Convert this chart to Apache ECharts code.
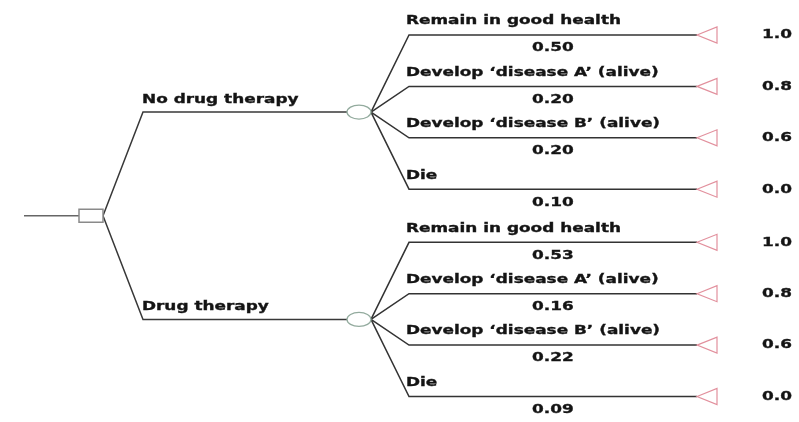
<!DOCTYPE html>
<html>
<head>
<meta charset="utf-8">
<script src="https://cdn.jsdelivr.net/npm/echarts@6/dist/echarts.min.js"></script>
<style>
html,body{margin:0;padding:0;background:#fff;}
#chart{width:799px;height:422px;}
</style>
</head>
<body>
<div id="chart"></div>
<script>
// ---- data ----
const strategies = ['No drug therapy', 'Drug therapy'];
const outcomes = ['Remain in good health', 'Develop \u2018disease A\u2019 (alive)', 'Develop \u2018disease B\u2019 (alive)', 'Die'];
const probNoDrug = [0.50, 0.20, 0.20, 0.10];
const probDrug = [0.53, 0.16, 0.22, 0.09];
const utilities = [1.0, 0.8, 0.6, 0.0];

// ---- layout (in axis units, 1 unit = 1 px) ----
const L = {
  rootStart: 24, decL: 79, decR: 103, decH: 13,
  armEnd: 143, chanceL: 347, chanceR: 371, chanceRy: 7,
  branchStart: 409, tip: 697, base: 717, triH: 8,
  valueX: 762, probX: 551, labelX: 406,
  y0: 35, branchGap: 51.4, groupGap: 207.3
};
const FONT = 'bold 13px "DejaVu Sans"';
const SX = 1.3;
const probs = [probNoDrug, probDrug];

const branchData = [];
probs.forEach((arr, g) => arr.forEach((p, i) => branchData.push([g, i, p, utilities[i]])));
const strategyData = strategies.map((s, g) => [g]);

function branchY(g, i) { return L.y0 + g * L.groupGap + i * L.branchGap; }
function chanceY(g) { return L.y0 + g * L.groupGap + 1.5 * L.branchGap; }

function txt(pt, text, align) {
  return {
    type: 'text', x: pt[0], y: pt[1], scaleX: SX,
    style: { text: text, font: FONT, fill: '#141414', stroke: '#141414', lineWidth: 0.35,
             align: align || 'left', verticalAlign: 'middle' }
  };
}

const chart = echarts.init(document.getElementById('chart'), null, { renderer: 'canvas' });
chart.setOption({
  animation: false,
  backgroundColor: '#fff',
  grid: { left: 0, right: 0, top: 0, bottom: 0 },
  xAxis: { type: 'value', min: 0, max: 799, show: false },
  yAxis: { type: 'value', min: 0, max: 422, inverse: true, show: false },
  series: [
    {
      // terminal branches
      type: 'custom',
      data: branchData,
      renderItem: function (params, api) {
        const g = api.value(0), i = api.value(1), p = api.value(2), u = api.value(3);
        const by = branchY(g, i), cy = chanceY(g);
        const c = (x, y) => api.coord([x, y]);
        return {
          type: 'group',
          children: [
            { type: 'polyline', shape: { points: [c(L.chanceR, cy), c(L.branchStart, by), c(L.tip, by)] },
              style: { stroke: '#333', lineWidth: 1.5, fill: null } },
            { type: 'polygon', shape: { points: [c(L.tip, by), c(L.base, by - L.triH), c(L.base, by + L.triH)] },
              style: { stroke: '#e2909d', lineWidth: 1.2, fill: '#fff' } },
            txt(c(L.labelX, by - 14), outcomes[i]),
            txt(c(L.probX - 19, by + 13), p.toFixed(2)),
            txt(c(L.valueX, by), u.toFixed(1))
          ]
        };
      }
    },
    {
      // strategy arms + chance nodes
      type: 'custom',
      data: strategyData,
      renderItem: function (params, api) {
        const g = api.value(0);
        const cy = chanceY(g);
        const dy = (chanceY(0) + chanceY(1)) / 2;
        const c = (x, y) => api.coord([x, y]);
        const cc = c((L.chanceL + L.chanceR) / 2, cy);
        const sz = api.size([(L.chanceR - L.chanceL) / 2, L.chanceRy]);
        return {
          type: 'group',
          children: [
            { type: 'polyline', shape: { points: [c(L.decR, dy), c(L.armEnd, cy), c(L.chanceL, cy)] },
              style: { stroke: '#383838', lineWidth: 1.5, fill: null } },
            { type: 'ellipse', shape: { cx: cc[0], cy: cc[1], rx: sz[0], ry: sz[1] },
              style: { stroke: '#93ab9e', lineWidth: 1.3, fill: '#fff' } },
            txt(c(L.armEnd - 1, cy - 12.5), strategies[g])
          ]
        };
      }
    },
    {
      // root + decision node
      type: 'custom',
      data: [[0]],
      renderItem: function (params, api) {
        const dy = (chanceY(0) + chanceY(1)) / 2;
        const c = (x, y) => api.coord([x, y]);
        const tl = c(L.decL, dy - L.decH / 2);
        const sz = api.size([L.decR - L.decL, L.decH]);
        return {
          type: 'group',
          children: [
            { type: 'line', shape: { x1: c(L.rootStart, dy)[0], y1: c(L.rootStart, dy)[1], x2: c(L.decL, dy)[0], y2: c(L.decL, dy)[1] },
              style: { stroke: '#666', lineWidth: 1.4 } },
            { type: 'rect', shape: { x: tl[0], y: tl[1], width: sz[0], height: sz[1] },
              style: { stroke: '#8a8a8a', lineWidth: 1.5, fill: '#fff' } }
          ]
        };
      }
    }
  ]
});
</script>
</body>
</html>
